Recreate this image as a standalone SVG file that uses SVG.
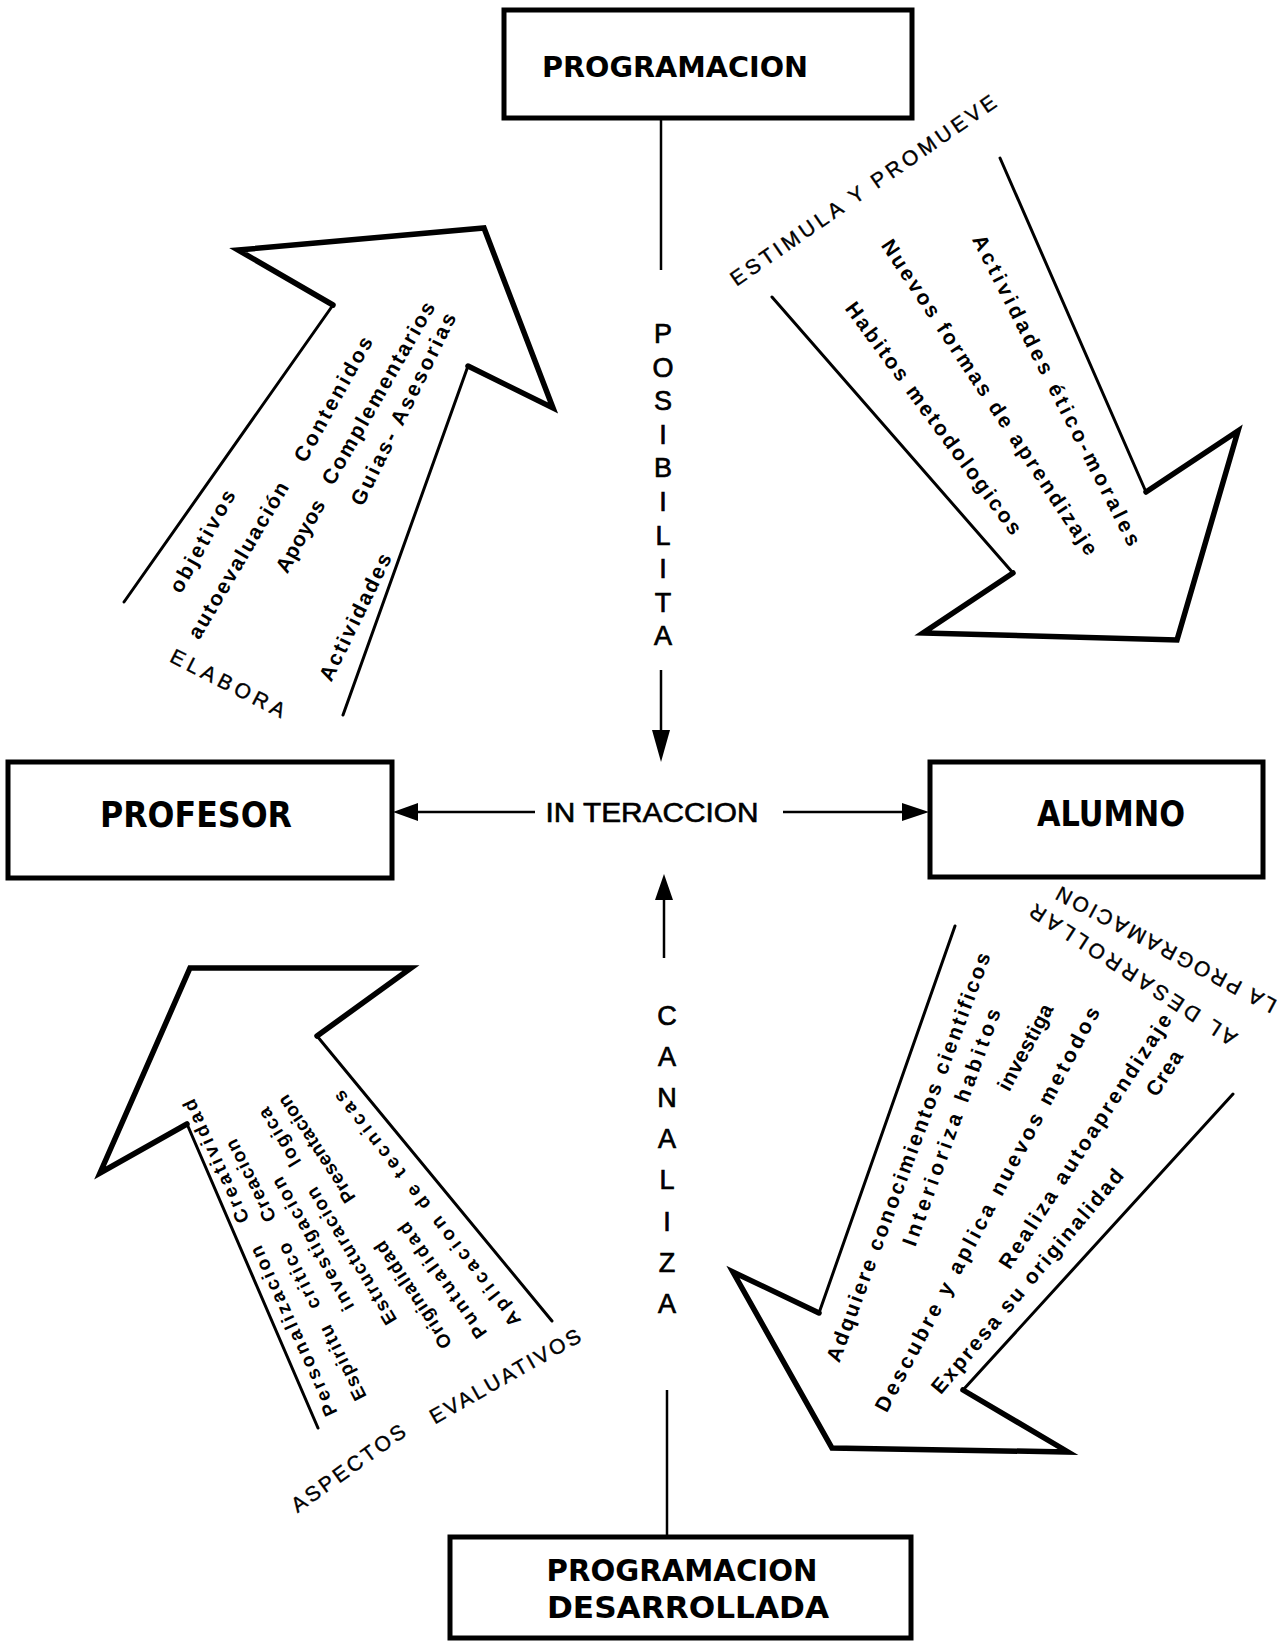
<svg xmlns="http://www.w3.org/2000/svg" width="1279" height="1641" viewBox="0 0 1279 1641">
<style>
.bg{fill:#fff}
.box{fill:#fff;stroke:#000;stroke-width:5}
.head{fill:none;stroke:#000;stroke-width:5.5;stroke-linejoin:miter;stroke-linecap:round}
.shaft{fill:none;stroke:#000;stroke-width:3;stroke-linecap:round}
.conn{fill:none;stroke:#000;stroke-width:2.5}
.title{font-family:"Liberation Sans Narrow","DejaVu Sans Condensed","Liberation Sans",sans-serif;font-weight:bold;fill:#000}
.lbl{font-family:"Liberation Sans","DejaVu Sans",sans-serif;fill:#000;stroke:#000;stroke-width:0.6}
.item{font-family:"Liberation Sans","DejaVu Sans",sans-serif;font-weight:bold;font-size:21px;fill:#000}
.item2{font-family:"Liberation Sans","DejaVu Sans",sans-serif;font-weight:bold;font-size:19px;fill:#000}
.cap{font-family:"Liberation Sans","DejaVu Sans",sans-serif;font-size:21px;fill:#000;stroke:#000;stroke-width:0.4}
.vert{font-family:"Liberation Sans","DejaVu Sans",sans-serif;font-size:27px;fill:#000;stroke:#000;stroke-width:0.7}
</style>
<rect class="bg" x="0" y="0" width="1279" height="1641"/>

<g id="connectors">
<line class="conn" x1="661" y1="120" x2="661" y2="270"/>
<line class="conn" x1="661" y1="670" x2="661" y2="740"/>
<path d="M661,762 L652,730 L670,730 z" fill="#000"/>
<line class="conn" x1="535" y1="812" x2="415" y2="812"/>
<path d="M393,812 L418,803 L418,821 z" fill="#000"/>
<line class="conn" x1="783" y1="812" x2="905" y2="812"/>
<path d="M929,812 L902,803 L902,821 z" fill="#000"/>
<path d="M664,874 L655,900 L673,900 z" fill="#000"/>
<line class="conn" x1="664" y1="897" x2="664" y2="958"/>
<line class="conn" x1="667" y1="1390" x2="667" y2="1537"/>
</g>

<g id="node-programacion">
<rect class="box" x="504" y="10" width="408" height="108"/>
<text class="title" x="675" y="77" font-size="29" text-anchor="middle" textLength="266" lengthAdjust="spacingAndGlyphs">PROGRAMACION</text>
</g>

<g id="node-profesor">
<rect class="box" x="8" y="762" width="384" height="116"/>
<text class="title" x="196" y="827" font-size="35" text-anchor="middle" textLength="192" lengthAdjust="spacingAndGlyphs">PROFESOR</text>
</g>

<g id="node-alumno">
<rect class="box" x="930" y="762" width="333" height="115"/>
<text class="title" x="1111" y="826" font-size="35" text-anchor="middle" textLength="148" lengthAdjust="spacingAndGlyphs">ALUMNO</text>
</g>

<g id="node-programacion-desarrollada">
<rect class="box" x="450" y="1537" width="461" height="101"/>
<text class="title" x="682" y="1581" font-size="30" text-anchor="middle" textLength="271" lengthAdjust="spacingAndGlyphs">PROGRAMACION</text>
<text class="title" x="688" y="1618" font-size="30" text-anchor="middle" textLength="282" lengthAdjust="spacingAndGlyphs">DESARROLLADA</text>
</g>

<g id="label-interaccion">
<text class="lbl" x="652" y="822" font-size="27" text-anchor="middle" textLength="213" lengthAdjust="spacingAndGlyphs">IN TERACCION</text>
</g>

<g id="label-posibilita" class="vert" text-anchor="middle">
<text x="663" y="343">P</text>
<text x="663" y="377">O</text>
<text x="663" y="410">S</text>
<text x="663" y="444">I</text>
<text x="663" y="477">B</text>
<text x="663" y="511">I</text>
<text x="663" y="545">L</text>
<text x="663" y="578">I</text>
<text x="663" y="612">T</text>
<text x="663" y="645">A</text>
</g>

<g id="label-canaliza" class="vert" text-anchor="middle">
<text x="667" y="1025">C</text>
<text x="667" y="1066">A</text>
<text x="667" y="1107">N</text>
<text x="667" y="1148">A</text>
<text x="667" y="1189">L</text>
<text x="667" y="1231">I</text>
<text x="667" y="1272">Z</text>
<text x="667" y="1313">A</text>
</g>

<g id="arrow-elabora">
<line class="shaft" x1="124" y1="602" x2="333" y2="305"/>
<polyline class="head" points="333,305 238,250 484,228 553,408 468,366"/>
<line class="shaft" x1="468" y1="366" x2="343" y2="715"/>
<text class="item" transform="translate(202,541) rotate(-61)" text-anchor="middle" dominant-baseline="central" textLength="114" lengthAdjust="spacing">objetivos</text>
<text class="item" transform="translate(238,560) rotate(-59.5)" text-anchor="middle" dominant-baseline="central" textLength="178" lengthAdjust="spacing">autoevaluación</text>
<text class="item" transform="translate(333,399) rotate(-61)" text-anchor="middle" dominant-baseline="central" textLength="140" lengthAdjust="spacing">Contenidos</text>
<text class="item" transform="translate(300,536) rotate(-61)" text-anchor="middle" dominant-baseline="central" textLength="80" lengthAdjust="spacing">Apoyos</text>
<text class="item" transform="translate(378,393) rotate(-60.3)" text-anchor="middle" dominant-baseline="central" textLength="207" lengthAdjust="spacing">Complementarios</text>
<text class="item" transform="translate(403,409) rotate(-63.7)" text-anchor="middle" dominant-baseline="central" textLength="212" lengthAdjust="spacing">Guias- Asesorias</text>
<text class="item" transform="translate(355,617) rotate(-64)" text-anchor="middle" dominant-baseline="central" textLength="139" lengthAdjust="spacing">Actividades</text>
<text class="cap" transform="translate(228,683) rotate(27)" text-anchor="middle" dominant-baseline="central" textLength="126" lengthAdjust="spacing">ELABORA</text>
</g>

<g id="arrow-estimula">
<line class="shaft" x1="772" y1="297" x2="1013" y2="573"/>
<polyline class="head" points="1013,573 923,633 1177,640 1238,431 1146,492"/>
<line class="shaft" x1="1146" y1="492" x2="1000" y2="158"/>
<text class="cap" transform="translate(863,190) rotate(-34.7)" text-anchor="middle" dominant-baseline="central" textLength="318" lengthAdjust="spacing">ESTIMULA Y PROMUEVE</text>
<text class="item" transform="translate(1057,390) rotate(63)" text-anchor="middle" dominant-baseline="central" textLength="346" lengthAdjust="spacing">Actividades ético-morales</text>
<text class="item" transform="translate(990,397) rotate(56.5)" text-anchor="middle" dominant-baseline="central" textLength="374" lengthAdjust="spacing">Nuevos formas de aprendizaje</text>
<text class="item" transform="translate(934,418) rotate(53.7)" text-anchor="middle" dominant-baseline="central" textLength="283" lengthAdjust="spacing">Habitos metodologicos</text>
</g>

<g id="arrow-aspectos">
<line class="shaft" x1="318" y1="1428" x2="187" y2="1124"/>
<polyline class="head" points="187,1124 100,1173 190,968 411,968 317,1036"/>
<line class="shaft" x1="317" y1="1036" x2="552" y2="1321"/>
<text class="item2" transform="translate(331.9,1415.1) rotate(-114.56)" dominant-baseline="central" textLength="185" lengthAdjust="spacing">Personalizacion</text>
<text class="item2" transform="translate(243.8,1222.2) rotate(-114.56)" dominant-baseline="central" textLength="134" lengthAdjust="spacing">Creatividad</text>
<text class="item2" transform="translate(361.2,1399.5) rotate(-116.82)" dominant-baseline="central" textLength="82" lengthAdjust="spacing">Espiritu</text>
<text class="item2" transform="translate(315.2,1308.4) rotate(-116.82)" dominant-baseline="central" textLength="72" lengthAdjust="spacing">critico</text>
<text class="item2" transform="translate(270.9,1221.0) rotate(-116.82)" dominant-baseline="central" textLength="90" lengthAdjust="spacing">Creacion</text>
<text class="item2" transform="translate(349.1,1309.6) rotate(-119.04)" dominant-baseline="central" textLength="150" lengthAdjust="spacing">investigacion</text>
<text class="item2" transform="translate(392.0,1323.2) rotate(-121.19)" dominant-baseline="central" textLength="157" lengthAdjust="spacing">Estructuracion</text>
<text class="item2" transform="translate(296.1,1165.0) rotate(-121.19)" dominant-baseline="central" textLength="65" lengthAdjust="spacing">logica</text>
<text class="item2" transform="translate(447.4,1347.1) rotate(-123.46)" dominant-baseline="central" textLength="125" lengthAdjust="spacing">Originalidad</text>
<text class="item2" transform="translate(350.9,1201.1) rotate(-123.46)" dominant-baseline="central" textLength="125" lengthAdjust="spacing">Presentacion</text>
<text class="item2" transform="translate(482.4,1336.6) rotate(-125.66)" dominant-baseline="central" textLength="138" lengthAdjust="spacing">Puntualidad</text>
<text class="item2" transform="translate(516.6,1324.4) rotate(-127.76)" dominant-baseline="central" textLength="293" lengthAdjust="spacing">Aplicacion de tecnicas</text>
<text class="cap" transform="translate(348,1468) rotate(-35.5)" text-anchor="middle" dominant-baseline="central" textLength="135" lengthAdjust="spacing">ASPECTOS</text>
<text class="cap" transform="translate(505,1376) rotate(-29.6)" text-anchor="middle" dominant-baseline="central" textLength="170" lengthAdjust="spacing">EVALUATIVOS</text>
</g>

<g id="arrow-desarrollar">
<line class="shaft" x1="955" y1="926" x2="819" y2="1313"/>
<polyline class="head" points="819,1313 733,1272 832,1448 1068,1452 963,1390"/>
<line class="shaft" x1="963" y1="1390" x2="1233" y2="1094"/>
<text class="item" transform="translate(908,1157) rotate(-69.6)" text-anchor="middle" dominant-baseline="central" textLength="435" lengthAdjust="spacing">Adquiere conocimientos cientificos</text>
<text class="item" transform="translate(951,1127) rotate(-70)" text-anchor="middle" dominant-baseline="central" textLength="251" lengthAdjust="spacing">Interioriza habitos</text>
<text class="item" transform="translate(1025,1047) rotate(-62)" text-anchor="middle" dominant-baseline="central" textLength="95" lengthAdjust="spacing">investiga</text>
<text class="item" transform="translate(987,1209) rotate(-62)" text-anchor="middle" dominant-baseline="central" textLength="455" lengthAdjust="spacing">Descubre y aplica nuevos metodos</text>
<text class="item" transform="translate(1085,1141) rotate(-57)" text-anchor="middle" dominant-baseline="central" textLength="299" lengthAdjust="spacing">Realiza autoaprendizaje</text>
<text class="item" transform="translate(1164,1073) rotate(-57)" text-anchor="middle" dominant-baseline="central" textLength="50" lengthAdjust="spacing">Crea</text>
<text class="item" transform="translate(1027,1281) rotate(-50)" text-anchor="middle" dominant-baseline="central" textLength="286" lengthAdjust="spacing">Expresa su originalidad</text>
<text class="cap" transform="translate(1133,975) rotate(-147)" text-anchor="middle" dominant-baseline="central" textLength="242" lengthAdjust="spacing">AL DESARROLLAR</text>
<text class="cap" transform="translate(1166,950) rotate(-152)" text-anchor="middle" dominant-baseline="central" textLength="246" lengthAdjust="spacing">LA PROGRAMACION</text>
</g>
</svg>
